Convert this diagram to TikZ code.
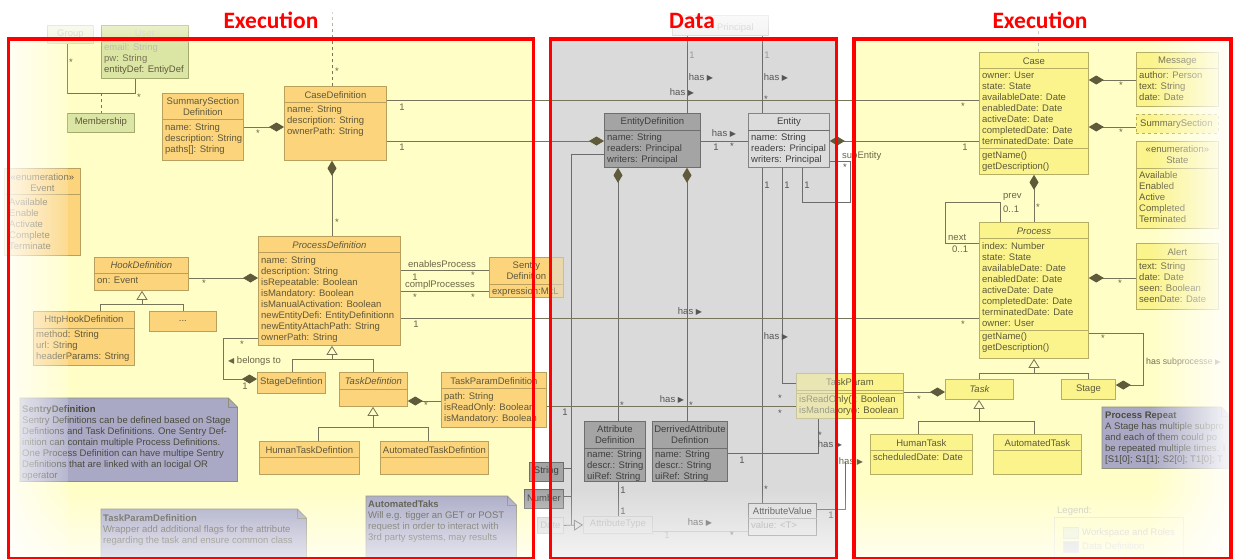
\documentclass[tikz,border=0pt]{standalone}
\usepackage{fontspec}
\setmainfont{Liberation Sans}
\newfontfamily\titlefont{Carlito}
\newfontfamily\symfont{DejaVu Sans}
\usetikzlibrary{calc,arrows.meta,fadings}

% colours
\definecolor{yelbg}{HTML}{FFFEC6}
\definecolor{datbg}{HTML}{DADADA}
\definecolor{ofill}{HTML}{FCD47C}
\definecolor{oline}{HTML}{B9A05C}
\definecolor{otext}{HTML}{5F583A}
\definecolor{gfill}{HTML}{DCE6A4}
\definecolor{gline}{HTML}{A3AA6C}
\definecolor{yfill}{HTML}{FBF48C}
\definecolor{yline}{HTML}{B6AE63}
\definecolor{ytext}{HTML}{5D5A3C}
\definecolor{dfill}{HTML}{A4A4A4}
\definecolor{dline}{HTML}{6E6E6E}
\definecolor{dtext}{HTML}{3E3E3E}
\definecolor{lfill}{HTML}{DCDCDC}
\definecolor{nfill}{HTML}{A9A9C6}
\definecolor{nline}{HTML}{8F8E76}
\definecolor{ntext}{HTML}{4A4A3C}
\definecolor{lncol}{HTML}{77745C}
\definecolor{dlncol}{HTML}{6C6C6C}
\definecolor{labcol}{HTML}{6B6547}
\definecolor{dlabcol}{HTML}{555555}
\definecolor{diam}{HTML}{5E5A3A}
\definecolor{framered}{HTML}{FF0000}

% soft edges of the sheet
\tikzfading[name=fadeleft, left color=transparent!10, right color=transparent!85]
\tikzfading[name=faderight, left color=transparent!100, right color=transparent!5]
\tikzfading[name=fadebottom, top color=transparent!100, bottom color=transparent!30]
\tikzfading[name=fadetop, top color=transparent!5, bottom color=transparent!100]

\tikzset{
  txt/.style={font=\fontsize{9.5}{11}\selectfont, inner sep=0pt, align=left},
  it/.style={font=\fontsize{9.5}{11}\selectfont\itshape},
  cbox/.style={inner sep=0pt, line width=0.8pt},
  obox/.style={cbox, draw=oline, fill=ofill},
  gbox/.style={cbox, draw=gline, fill=gfill},
  ybox/.style={cbox, draw=yline, fill=yfill},
  dbox/.style={cbox, draw=dline, fill=dfill},
  lbox/.style={cbox, draw=dline!85, fill=lfill},
  ln/.style={draw=lncol, line width=0.8pt},
  dln/.style={draw=dlncol, line width=0.8pt},
  comp/.style={{Diamond[length=15pt,width=9pt,color=diam]}-},
  gen/.style={-{Triangle[open,length=9pt,width=11pt]}},
  lab/.style={font=\fontsize{9.5}{11}\selectfont, inner sep=0pt, text=labcol},
  dlab/.style={lab, text=dlabcol},
  frame/.style={draw=framered, line width=3.6pt},
  ttl/.style={font=\titlefont\bfseries\fontsize{23.5}{28}\selectfont, text=framered, anchor=base, inner sep=0pt},
}

\newcommand{\umlbox}[6]{\node[#2, minimum width=#5pt, minimum height=#6pt, anchor=north west] (#1) at (#3,#4) {};}
\newcommand{\umlsep}[3]{\draw[#3, line width=0.8pt] ($(#1.north west)+(0,#2)$) -- ($(#1.north east)+(0,#2)$);}
\newcommand{\umlhead}[4]{\node[txt, align=center, #3] at ($(#1.north)+(0,#2)$) {#4};}
\newcommand{\umlattr}[4]{\node[txt, anchor=north west, #3] at ($(#1.north west)+(3,#2)$) {#4};}
\newcommand{\umlnote}[5]{%
  \node[minimum width=#4pt, minimum height=#5pt, anchor=north west, inner sep=0pt] (#1) at (#2,#3) {};
  \filldraw[fill=nfill, draw=nline, line width=0.8pt] (#1.north west) -- ($(#1.north east)+(-9,0)$) -- ($(#1.north east)+(0,9)$) -- (#1.south east) -- (#1.south west) -- cycle;
  \draw[nline, line width=0.8pt] ($(#1.north east)+(-9,0)$) -- ($(#1.north east)+(-9,9)$) -- ($(#1.north east)+(0,9)$);}
\newcommand{\hasr}{has {\symfont\fontsize{8}{8}\selectfont ▶}}
\newcommand{\mstar}[3][lab]{\node[#1] at (#2,#3+2) {*};}

\begin{document}
\begin{tikzpicture}[x=1pt,y=-1pt]
\useasboundingbox (0,0) rectangle (1233,558);

% ---------- coloured areas ----------
\fill[yelbg] (8,39) rectangle (534,558);
\fill[datbg] (550,39) rectangle (837,558);
\fill[yelbg] (853,39) rectangle (1231,558);

% ---------- workspace and roles ----------
\umlbox{group}{gbox, opacity=0.35}{47}{25}{46}{18}
\umlhead{group}{9}{text=otext!30}{Group}
\umlbox{user}{gbox}{101}{25}{87}{53}
\umlhead{user}{8}{text=otext!30}{User}
\umlsep{user}{16}{gline!50}
\umlattr{user}{18.6}{text=otext}{{\color{otext!40}email: String}\\{\color{otext!85}pw: String}\\entityDef: EntiyDef}
\umlbox{member}{gbox}{67}{113}{67}{19}
\umlhead{member}{9.5}{text=otext}{Membership}
\coordinate (mjoin) at (101,93);
\draw[ln] (group.south -| 67,0) -- (67,93) -- (135,93) -- (user.south -| 135,0);
\draw[ln, dashed] (mjoin) -- (member.north -| 101,0);
\mstar{71}{60}
\mstar{139}{95}

% ---------- process definitions ----------
\umlbox{event}{obox}{4}{168}{76}{87}
\umlhead{event}{15}{text=otext}{«enumeration»\\Event}
\umlsep{event}{26}{oline}
\umlattr{event}{30.6}{text=otext, xshift=2pt}{Available\\Enable\\Activate\\Complete\\Terminate}

\umlbox{ssd}{obox}{162}{93}{81}{67}
\umlhead{ssd}{14}{text=otext}{SummarySection\\Definition}
\umlsep{ssd}{26.5}{oline}
\umlattr{ssd}{30}{text=otext}{name: String\\description: String\\paths[]: String}

\umlbox{cased}{obox}{284}{86}{102}{74}
\umlhead{cased}{9}{text=otext}{CaseDefinition}
\umlsep{cased}{16}{oline}
\umlattr{cased}{19.6}{text=otext}{name: String\\description: String\\ownerPath: String}

\umlbox{procdef}{obox}{258}{236}{142}{109}
\umlhead{procdef}{9}{text=otext, it}{ProcessDefinition}
\umlsep{procdef}{16}{oline}
\umlattr{procdef}{20.2}{text=otext}{name: String\\description: String\\isRepeatable: Boolean\\isMandatory: Boolean\\isManualActivation: Boolean\\newEntityDefi: EntityDefinitionn\\newEntityAttachPath: String\\ownerPath: String}

\umlbox{hook}{obox}{94}{257}{94}{33}
\umlhead{hook}{8.5}{text=otext, it}{HookDefinition}
\umlsep{hook}{16}{oline}
\umlattr{hook}{19.6}{text=otext}{on: Event}

\umlbox{http}{obox}{33}{311}{101}{54}
\umlhead{http}{9}{text=otext}{HttpHookDefinition}
\umlsep{http}{17}{oline}
\umlattr{http}{19.6}{text=otext}{method: String\\url: String\\headerParams: String}

\umlbox{dots}{obox}{149}{311}{67}{20}
\umlhead{dots}{10}{text=otext}{...}

\umlbox{stgdef}{obox}{257}{372}{68}{21}
\umlhead{stgdef}{10}{text=otext}{StageDefintion}

\umlbox{taskd}{obox}{339}{372}{68}{34}
\umlhead{taskd}{9}{text=otext, it}{TaskDefintion}
\umlsep{taskd}{17}{oline}

\umlbox{tpd}{obox}{441}{372}{105}{55}
\umlhead{tpd}{9}{text=otext}{TaskParamDefinition}
\umlsep{tpd}{16}{oline}
\umlattr{tpd}{20}{text=otext}{path: String\\isReadOnly: Boolean\\isMandatory: Boolean}

\umlbox{htd}{obox}{259}{441}{100}{33}
\umlhead{htd}{9}{text=otext}{HumanTaskDefintion}
\umlsep{htd}{16}{oline}

\umlbox{atd}{obox}{380}{441}{108}{33}
\umlhead{atd}{9}{text=otext}{AutomatedTaskDefintion}
\umlsep{atd}{16}{oline}

\umlbox{sentry}{obox}{489}{257}{74}{40}
\umlhead{sentry}{13.5}{text=otext}{Sentry\\Definition}
\umlsep{sentry}{27}{oline}
\umlattr{sentry}{30.6}{text=otext}{expression:MxL}

% notes
\umlnote{sentrynote}{20}{398}{217}{83}
\node[txt, anchor=north west, text=ntext] at ($(sentrynote.north west)+(2,7.5)$) {\textbf{SentryDefinition}\\Sentry Definitions can be defined based on Stage\\Defintions and Task Definitions. One Sentry Def-\\inition can contain multiple Process Definitions.\\One Process Definition can have multipe Sentry\\Definitions that are linked with an locigal OR\\operator};
\umlnote{tpnote}{101}{509}{205}{60}
\node[txt, anchor=north west, text=ntext] at ($(tpnote.north west)+(2,5.5)$) {\textbf{TaskParamDefinition}\\Wrapper add additional flags for the attribute\\regarding the task and ensure common class};
\umlnote{autonote}{366}{496}{150}{70}
\node[txt, anchor=north west, text=ntext] at ($(autonote.north west)+(2,4.5)$) {\textbf{AutomatedTaks}\\Will e.g. tigger an GET or POST\\request in order to interact with\\3rd party systems, may results};

% connectors (definitions)
\coordinate (cdtop) at (332,12);
\draw[ln, dashed] (cased.north -| 332,0) -- (cdtop);
\mstar{337}{69}
\draw[ln, comp] (cased.south -| 332,0) -- (procdef.north -| 332,0);
\mstar{337}{220}
\draw[ln, comp] (cased.west |- 0,127) -- (ssd.east |- 0,127);
\mstar{258}{131}
\draw[ln, comp] (procdef.west |- 0,278) -- (hook.east |- 0,278);
\mstar{204}{281}
\draw[ln] (http.north -| 100,0) -- (100,304) -- (183,304) -- (dots.north -| 183,0);
\draw[ln, gen] (142,304) -- (hook.south -| 142,0);
\draw[ln, comp] (stgdef.west |- 0,379) -- (223,379) -- (223,338) -- (procdef.west |- 0,338);
\mstar{242}{342}
\node[lab] at (245,386) {1};
\node[lab, anchor=west] at (228,361) {{\symfont\fontsize{8}{8}\selectfont ◀} belongs to};
\draw[ln] (stgdef.north -| 292,0) -- (292,359) -- (373,359) -- (taskd.north -| 373,0);
\draw[ln, gen] (332,359) -- (procdef.south -| 332,0);
\draw[ln, comp] (taskd.east |- 0,401) -- (tpd.west |- 0,401);
\mstar{426}{403}
\draw[ln] (htd.north -| 318,0) -- (318,427) -- (428,427) -- (atd.north -| 428,0);
\draw[ln, gen] (373,427) -- (taskd.south -| 373,0);
\draw[ln] (procdef.east |- 0,270) -- (sentry.west |- 0,270);
\draw[ln] (procdef.east |- 0,291) -- (sentry.west |- 0,291);
\node[lab] at (442,264) {enablesProcess};
\node[lab] at (415,277) {1};
\mstar{473}{273}
\node[lab] at (440,285) {complProcesses};
\mstar{415}{295}
\mstar{473}{295}

% ---------- data definitions ----------
\umlbox{principal}{lbox, draw=dline!30, fill=lfill!40}{672}{15}{96}{20}
\node[txt, anchor=west, text=dtext!30] at (717,28) {Principal};

\umlbox{entdef}{dbox}{604}{113}{96}{54}
\umlhead{entdef}{9}{text=dtext}{EntityDefinition}
\umlsep{entdef}{17}{dline}
\umlattr{entdef}{20.3}{text=dtext}{name: String\\readers: Principal\\writers: Principal}

\umlbox{entity}{lbox}{748}{113}{81}{54}
\umlhead{entity}{9}{text=dtext}{Entity}
\umlsep{entity}{17}{dline}
\umlattr{entity}{20.3}{text=dtext}{name: String\\readers: Principal\\writers: Principal}

\umlbox{attrdef}{dbox}{584}{421}{61}{60}
\umlhead{attrdef}{13.5}{text=dtext}{Attribute\\Definition}
\umlsep{attrdef}{27}{dline}
\umlattr{attrdef}{29.6}{text=dtext}{name: String\\descr.: String\\uiRef: String}

\umlbox{dattr}{dbox}{652}{421}{75}{60}
\umlhead{dattr}{13.5}{text=dtext}{DerrivedAttribute\\Defintion}
\umlsep{dattr}{27}{dline}
\umlattr{dattr}{29.6}{text=dtext}{name: String\\descr.: String\\uiRef: String}

\umlbox{string}{dbox}{529}{462}{34}{19}
\umlhead{string}{9.5}{text=dtext}{String}
\umlbox{number}{dbox}{524}{489}{39}{19}
\umlhead{number}{9.5}{text=dtext}{Number}
\umlbox{date}{lbox, draw=dline!40}{537}{517}{26}{16}
\umlhead{date}{8}{text=dtext!40}{Date}
\umlbox{attrtype}{lbox, draw=dline!40}{583}{516}{69}{17}
\umlhead{attrtype}{8.5}{text=dtext!40}{AttributeType}

\umlbox{attrval}{lbox}{748}{503}{68}{32}
\umlhead{attrval}{8}{text=dtext}{AttributeValue}
\umlsep{attrval}{15}{dline!60}
\umlattr{attrval}{18.6}{text=dtext!50}{value: <T>}

% ---------- execution ----------
\umlbox{case}{ybox}{979}{52}{109}{122}
\umlhead{case}{9}{text=ytext}{Case}
\umlsep{case}{16}{yline}
\umlattr{case}{19.6}{text=ytext}{owner: User\\state: State\\availableDate: Date\\enabledDate: Date\\activeDate: Date\\completedDate: Date\\terminatedDate: Date}
\umlsep{case}{96}{yline}
\umlattr{case}{99.6}{text=ytext}{getName()\\getDescription()}

\umlbox{message}{ybox}{1136}{52}{82}{54}
\umlhead{message}{9}{text=ytext}{Message}
\umlsep{message}{16}{yline}
\umlattr{message}{19.6}{text=ytext}{author: Person\\text: String\\date: Date}

\umlbox{summ}{ybox, dashed}{1136}{114}{82}{19}
\node[txt, anchor=west, text=ytext] at ($(summ.west)+(4,0)$) {SummarySection};

\umlbox{state}{ybox}{1136}{141}{82}{87}
\umlhead{state}{14}{text=ytext}{«enumeration»\\State}
\umlsep{state}{27}{yline}
\umlattr{state}{30}{text=ytext}{Available\\Enabled\\Active\\Completed\\Terminated}

\umlbox{process}{ybox}{979}{222}{109}{136}
\umlhead{process}{9}{text=ytext, it}{Process}
\umlsep{process}{16}{yline}
\umlattr{process}{20.6}{text=ytext}{index: Number\\state: State\\availableDate: Date\\enabledDate: Date\\activeDate: Date\\completedDate: Date\\terminatedDate: Date\\owner: User}
\umlsep{process}{108}{yline}
\umlattr{process}{110.6}{text=ytext}{getName()\\getDescription()}

\umlbox{alert}{ybox}{1136}{243}{82}{66}
\umlhead{alert}{9}{text=ytext}{Alert}
\umlsep{alert}{16}{yline}
\umlattr{alert}{19.6}{text=ytext}{text: String\\date: Date\\seen: Boolean\\seenDate: Date}

\umlbox{task}{ybox}{945}{379}{68}{20}
\umlhead{task}{10}{text=ytext, it}{Task}
\umlbox{rstage}{ybox}{1061}{379}{54}{20}
\umlhead{rstage}{10}{text=ytext}{Stage}

\umlbox{taskparam}{ybox}{796}{373}{107}{45}
\umlhead{taskparam}{9}{text=ytext}{TaskParam}
\umlsep{taskparam}{17}{yline}
\umlsep{taskparam}{20}{yline}
\umlattr{taskparam}{22.6}{text=ytext}{isReadOnly(): Boolean\\isMandatory(): Boolean}

\umlbox{htask}{ybox}{870}{434}{102}{40}
\umlhead{htask}{9}{text=ytext}{HumanTask}
\umlsep{htask}{16}{yline}
\umlattr{htask}{19.6}{text=ytext}{scheduledDate: Date}

\umlbox{atask}{ybox}{993}{434}{88}{40}
\umlhead{atask}{9}{text=ytext}{AutomatedTask}
\umlsep{atask}{16}{yline}

\umlnote{prnote}{1102}{407}{128}{61}
\node[txt, anchor=north west, text=ntext] at ($(prnote.north west)+(3,5)$) {\textbf{Process Repeat}\\A Stage has multiple subpro\\and each of them could po\\be repeated multiple times. I\\{[S1[0]; S1[1]; S2[0]; T1[0]; T}};

% legend
\node[txt, anchor=west, text=labcol!35] (legtitle) at (1057,511) {Legend:};
\node[draw=yline!30, line width=0.8pt, minimum width=129pt, minimum height=45pt, anchor=north west, inner sep=0pt] (legend) at (1054,517) {};
\fill[gfill!50, draw=gline!30] ($(legend.north west)+(9,10)$) rectangle +(15,11);
\node[txt, anchor=west, text=labcol!30] at ($(legend.north west)+(28,16)$) {Workspace and Roles};
\fill[dfill!40, draw=dline!20] ($(legend.north west)+(9,24)$) rectangle +(15,11);
\node[txt, anchor=west, text=labcol!25] at ($(legend.north west)+(28,29)$) {Data Definition};

% ---------- associations across the areas ----------
\draw[ln] (cased.east |- 0,100) -- (case.west |- 0,100);
\node[lab] at (402,107) {1};
\node[dlab] at (682,93) {\hasr};
\mstar{963}{104}
\draw[ln, comp] (entdef.west |- 0,141) -- (cased.east |- 0,141);
\node[lab] at (402,147) {1};
\draw[ln, comp] (entity.east |- 0,141) -- (case.west |- 0,141);
\node[lab] at (965,147) {1};
\draw[dln] (entdef.east |- 0,141) -- (entity.west |- 0,141);
\node[dlab] at (724,134) {\hasr};
\node[dlab] at (716,147) {1};
\mstar[dlab]{732}{144}
\draw[dln] (entdef.north -| 687,0) -- (principal.south -| 687,0);
\draw[dln] (entity.north -| 762,0) -- (principal.south -| 762,0);
\node[dlab, text=dlabcol!60] at (692,55) {1};
\node[dlab] at (701,78) {\hasr};
\node[dlab, text=dlabcol!60] at (767,55) {1};
\node[dlab] at (776,78) {\hasr};
\mstar[dlab]{766}{97}
\draw[dln, comp] (entdef.south -| 618,0) -- (attrdef.north -| 618,0);
\draw[dln, comp] (entdef.south -| 687,0) -- (dattr.north -| 687,0);
\mstar[dlab]{622}{403}
\mstar[dlab]{691}{403}
\draw[dln] (entdef.west |- 0,154) -- (571,154) -- (571,0 |- date.east);
\draw[dln] (string.east |- 0,468) -- (571,468);
\draw[dln] (number.east |- 0,496) -- (571,496);
\draw[dln, gen] (date.east) -- (attrtype.west);
\draw[dln] (attrdef.south -| 618,0) -- (attrtype.north -| 618,0);
\node[dlab] at (623,490) {1};
\node[dlab] at (623,511) {1};
\draw[dln, draw=dlncol!50] (attrtype.east |- 0,531) -- (attrval.west |- 0,531);
\node[dlab, text=dlabcol!50] at (667,535) {1};
\mstar[dlab]{732}{533}
\node[dlab] at (700,523) {\hasr};
\draw[dln] (entity.south -| 762,0) -- (attrval.north -| 762,0);
\node[dlab] at (767,185) {1};
\mstar[dlab]{766}{487}
\draw[dln] (entity.south -| 782,0) -- (782,383) -- (taskparam.west |- 0,383);
\node[dlab] at (787,185) {1};
\node[dlab] at (776,337) {\hasr};
\mstar[dlab]{780}{396}
\draw[dln] (entity.south -| 802,0) -- (802,202) -- (850,202) -- (850,161) -- (entity.east |- 0,161);
\node[dlab] at (807,185) {1};
\node[lab, anchor=west] at (842,156) {subEntity};
\mstar[dlab]{845}{165}
\draw[ln] (tpd.east |- 0,406) -- (taskparam.west |- 0,406);
\node[dlab] at (565,412) {1};
\node[dlab] at (672,400) {\hasr};
\mstar[dlab]{780}{411}
\draw[dln] (dattr.east |- 0,453) -- (818,453) -- (taskparam.south -| 818,0);
\node[dlab] at (742,460) {1};
\mstar[dlab]{820}{433}
\node[dlab] at (830,445) {\hasr};
\draw[dln] (attrval.east |- 0,509) -- (845,509) -- (845,462);
\node[dlab] at (831,515) {1};
\node[lab] at (851,462) {\hasr};
\draw[ln] (procdef.east |- 0,318) -- (process.west |- 0,318);
\node[lab] at (416,324) {1};
\node[dlab] at (690,312) {\hasr};
\mstar{963}{322}

% ---------- execution connectors ----------
\coordinate (casetop) at (1038,28);
\draw[ln, dashed, draw=lncol!50] (case.north -| 1038,0) -- (casetop);
\draw[ln, comp] (case.east |- 0,80) -- (message.west |- 0,80);
\mstar{1121}{83}
\draw[ln, comp] (case.east |- 0,127) -- (summ.west |- 0,127);
\mstar{1121}{130}
\draw[ln, comp] (case.south -| 1034,0) -- (process.north -| 1034,0);
\mstar{1038}{205}
\draw[ln] (process.north -| 1000,0) -- (1000,202) -- (945,202) -- (945,243) -- (process.west |- 0,243);
\node[lab, anchor=west] at (1003,197) {prev};
\node[lab, anchor=west] at (1003,209) {0..1};
\node[lab, anchor=west] at (948,237) {next};
\node[lab, anchor=west] at (952,249) {0..1};
\draw[ln, comp] (process.east |- 0,278) -- (alert.west |- 0,278);
\mstar{1120}{281}
\draw[ln, comp] (rstage.east |- 0,385) -- (1143,385) -- (1143,333) -- (process.east |- 0,333);
\mstar{1103}{336}
\node[lab, anchor=west, font=\fontsize{8.8}{11}\selectfont] at (1146,362) {has subprocesse {\symfont\fontsize{7.5}{8}\selectfont ▶}};
\draw[ln] (task.north -| 979,0) -- (979,373) -- (1088,373) -- (rstage.north -| 1088,0);
\draw[ln, gen] (1034,373) -- (process.south -| 1034,0);
\draw[ln, comp] (task.west |- 0,392) -- (taskparam.east |- 0,392);
\mstar{919}{397}
\draw[ln] (htask.north -| 918,0) -- (918,421) -- (1034,421) -- (atask.north -| 1034,0);
\draw[ln, gen] (979,421) -- (task.south -| 979,0);

% parts of boxes lying in the grey area
\begin{scope}
  \clip (552,39) rectangle (835,558);
  \fill[datbg, opacity=0.5] (sentry.north west) rectangle (sentry.south east);
  \fill[datbg, opacity=0.5] (taskparam.north west) rectangle (taskparam.south east);
\end{scope}

% ---------- faded sheet edges ----------
\fill[white, path fading=fadeleft] (0,39) rectangle (68,558);
\fill[white, path fading=faderight] (1150,0) rectangle (1233,558);
\fill[white, path fading=fadebottom] (0,488) rectangle (1233,558);
\fill[white, path fading=fadetop] (0,0) rectangle (1233,46);

% ---------- frames and titles ----------
\draw[frame] (8.5,39) rectangle (533.5,559);
\draw[frame] (550.5,39) rectangle (836.5,559);
\draw[frame] (854,39) rectangle (1231,559);
\node[ttl] at (271,28) {Execution};
\node[ttl] at (692,28) {Data};
\node[ttl] at (1040,28) {Execution};
\end{tikzpicture}
\end{document}
